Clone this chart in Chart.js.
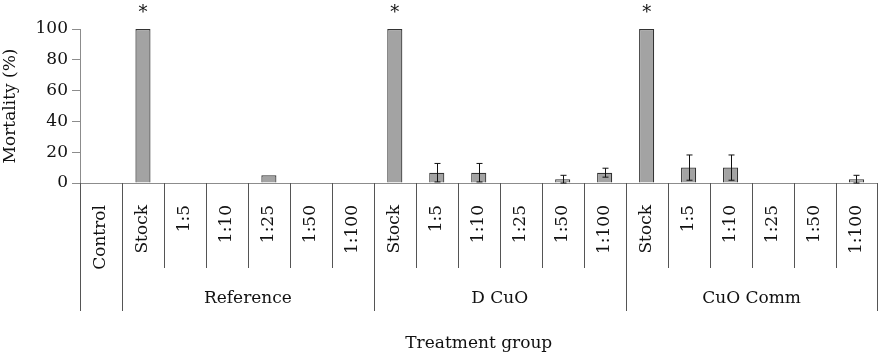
<!DOCTYPE html>
<html>
<head>
<meta charset="utf-8">
<script src="https://cdn.jsdelivr.net/npm/chart.js@4/dist/chart.umd.min.js"></script>
<style>
  body { margin: 0; background: #fff; }
  canvas { display: block; }
</style>
</head>
<body>
<canvas id="mortalityChart" width="891" height="359"></canvas>
<script>
// Data
const categories = ['Control',
    'Stock', '1:5', '1:10', '1:25', '1:50', '1:100',
    'Stock', '1:5', '1:10', '1:25', '1:50', '1:100',
    'Stock', '1:5', '1:10', '1:25', '1:50', '1:100'];
const groupNames = ['Reference', 'D CuO', 'CuO Comm'];
const groupStarts = [1, 7, 13];
const groupSize = 6;
const mortality = [0,
    100, 0, 0, 5, 0, 0,
    100, 6.7, 6.7, 0, 2.5, 6.7,
    100, 10, 10, 0, 0, 2.5];
const errors = [0,
    0, 0, 0, 0, 0, 0,
    0, 6, 6, 0, 2.5, 2.9,
    0, 8.2, 8.2, 0, 0, 2.5];
const significant = [1, 7, 13];
const yTicks = [0, 20, 40, 60, 80, 100];

const FONT = { family: 'DejaVu Serif', size: 17 };
const TEXT = '#111';
const AXIS = '#8c8c8c';

// Error bars, asterisks, divider lines and group labels
const overlay = {
    id: 'overlay',
    afterDraw(chart) {
        const { ctx, scales: { x, y } } = chart;
        ctx.save();

        // error bars
        ctx.strokeStyle = '#111';
        ctx.lineWidth = 1;
        mortality.forEach((v, i) => {
            const e = errors[i];
            if (!e) return;
            const cx = Math.round(x.getPixelForValue(i)) + 0.5;
            const top = y.getPixelForValue(v + e);
            const bot = y.getPixelForValue(Math.max(v - e, 0));
            ctx.beginPath();
            ctx.moveTo(cx, top); ctx.lineTo(cx, bot);
            ctx.moveTo(cx - 3, top); ctx.lineTo(cx + 3, top);
            ctx.moveTo(cx - 3, bot); ctx.lineTo(cx + 3, bot);
            ctx.stroke();
        });

        // significance markers
        ctx.fillStyle = TEXT;
        ctx.font = '18px "DejaVu Serif"';
        ctx.textAlign = 'center';
        ctx.textBaseline = 'middle';
        significant.forEach(i => {
            ctx.fillText('*', x.getPixelForValue(i), y.getPixelForValue(mortality[i]) - 16);
        });

        // category / group divider lines below the axis
        const half = (x.getPixelForValue(1) - x.getPixelForValue(0)) / 2;
        const longIdx = [0, 1].concat(groupStarts.map(s => s + groupSize));
        ctx.strokeStyle = '#555';
        for (let i = 0; i <= categories.length; i++) {
            const bx = Math.round(x.getPixelForValue(i) - half) + 0.5;
            const depth = longIdx.includes(i) ? 128 : 85;
            ctx.beginPath();
            ctx.moveTo(bx, x.top);
            ctx.lineTo(bx, x.top + depth);
            ctx.stroke();
        }

        // group labels
        ctx.font = '17px "DejaVu Serif"';
        groupNames.forEach((name, g) => {
            const s = groupStarts[g];
            const cx = (x.getPixelForValue(s) + x.getPixelForValue(s + groupSize - 1)) / 2;
            ctx.fillText(name, cx, x.top + 116);
        });

        ctx.restore();
    }
};

const ctx = document.getElementById('mortalityChart').getContext('2d');
new Chart(ctx, {
    type: 'bar',
    data: {
        labels: categories,
        datasets: [{
            data: mortality,
            backgroundColor: '#a3a3a3',
            borderColor: '#333',
            borderWidth: 1.2,
            categoryPercentage: 1,
            barPercentage: 0.36
        }]
    },
    options: {
        responsive: false,
        animation: false,
        layout: { padding: { top: 29, right: 4, left: 0, bottom: 0 } },
        plugins: {
            legend: { display: false },
            tooltip: { enabled: false }
        },
        scales: {
            x: {
                grid: { display: false },
                border: { color: AXIS },
                ticks: {
                    autoSkip: false,
                    minRotation: 90,
                    maxRotation: 90,
                    padding: 14,
                    color: TEXT,
                    font: FONT
                },
                title: {
                    display: true,
                    text: 'Treatment group',
                    color: TEXT,
                    font: FONT,
                    padding: { top: 0, bottom: 5 }
                },
                afterFit(scale) { scale.height = 176; }
            },
            y: {
                min: 0,
                max: 100,
                afterBuildTicks(scale) { scale.ticks = yTicks.map(v => ({ value: v })); },
                ticks: { padding: 4, color: TEXT, font: FONT },
                grid: { drawOnChartArea: false, tickLength: 8, color: AXIS },
                border: { color: AXIS },
                title: {
                    display: true,
                    text: 'Mortality (%)',
                    color: TEXT,
                    font: FONT,
                    padding: { top: 0, bottom: 2 }
                },
                afterFit(scale) { scale.width = 80; }
            }
        }
    },
    plugins: [overlay]
});
</script>
</body>
</html>
